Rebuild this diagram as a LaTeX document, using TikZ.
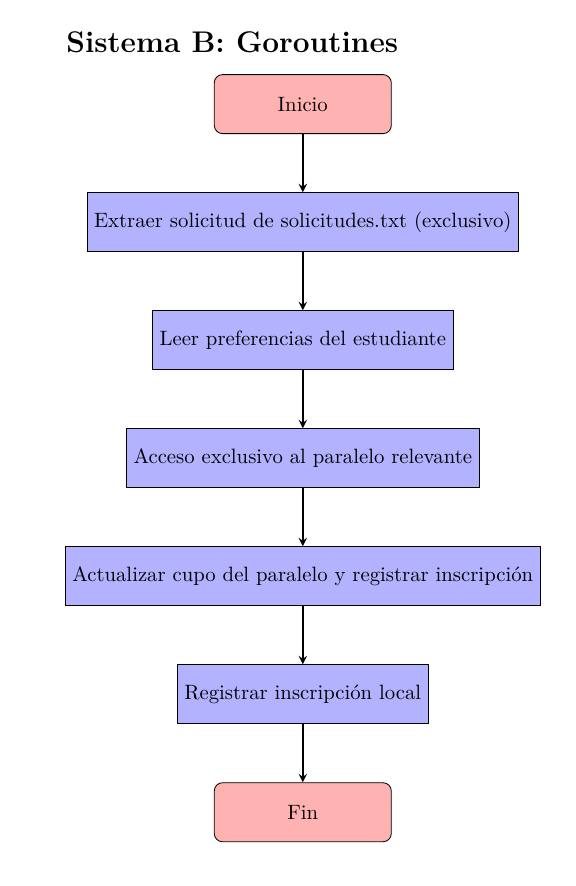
\documentclass[tikz,border=0pt]{standalone}
\usetikzlibrary{arrows}
\begin{document}
\begin{tikzpicture}[startstop/.style={rectangle,rounded corners,minimum width=3cm,minimum height=1cm,text centered,draw=black,fill=red!30},
	process/.style={rectangle,minimum width=3cm,minimum height=1cm,text centered,draw=black,fill=blue!30},
	arrow/.style={thick,->,>=stealth}]
  \useasboundingbox (-146.0pt,50.2pt) rectangle (131.7pt,-377.0pt);
  \node (Title) at (-114.2pt,25.0pt) [anchor=base west,inner sep=0pt,font=\Large\bfseries] {Sistema B: Goroutines};
  \node (Inicio) at (0cm,0cm) [startstop] {Inicio};
  \node (Extraer) at (0cm,-2cm) [process] {Extraer solicitud de solicitudes.txt (exclusivo)};
  \node (Leer) at (0cm,-4cm) [process] {Leer preferencias del estudiante};
  \node (Acceso) at (0cm,-6cm) [process] {Acceso exclusivo al paralelo relevante};
  \node (Actualizar) at (0cm,-8cm) [process] {Actualizar cupo del paralelo y registrar inscripción};
  \node (Registrar) at (0cm,-10cm) [process] {Registrar inscripción local};
  \node (Fin) at (0cm,-12cm) [startstop] {Fin};
  \draw [arrow] (Inicio) -- (Extraer);
  \draw [arrow] (Extraer) -- (Leer);
  \draw [arrow] (Leer) -- (Acceso);
  \draw [arrow] (Acceso) -- (Actualizar);
  \draw [arrow] (Actualizar) -- (Registrar);
  \draw [arrow] (Registrar) -- (Fin);
\end{tikzpicture}
\end{document}
